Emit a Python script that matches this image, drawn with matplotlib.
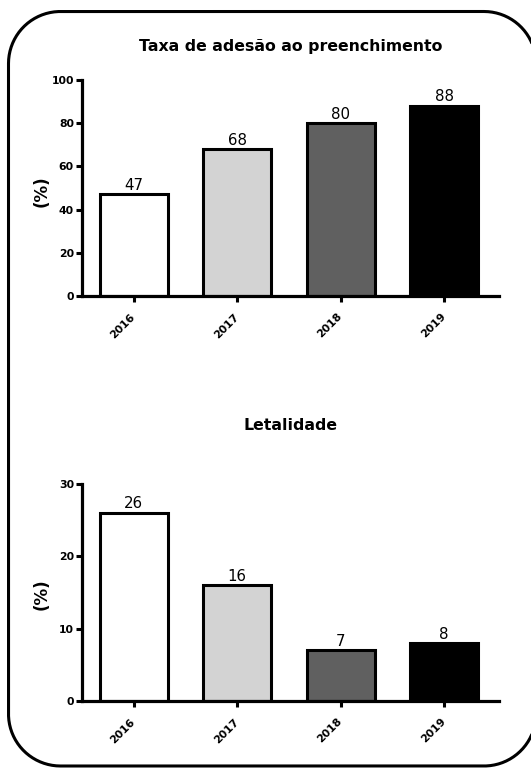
import matplotlib
matplotlib.use('Agg')
import numpy as np
import matplotlib.pyplot as plt
import matplotlib.transforms as mtransforms
from matplotlib.path import Path
from matplotlib.patches import PathPatch

years = ['2016', '2017', '2018', '2019']
adesao = [47, 68, 80, 88]
letalidade = [26, 16, 7, 8]
adesao_ticks = [0, 20, 40, 60, 80, 100]
letalidade_ticks = [0, 10, 20, 30]
bar_colors = ['#ffffff', '#d3d3d3', '#606060', '#000000']
title_top = 'Taxa de adesão ao preenchimento'
title_bottom = 'Letalidade'
ylabel = '(%)'

plt.rcParams['font.family'] = ['DejaVu Sans']

W, H = 531, 769
fig = plt.figure(figsize=(W / 100, H / 100), dpi=100)
fig.patch.set_facecolor('white')

# rounded frame in pixel coordinates (origin top-left), converted to inches
x0, x1, yt, yb, r = 8.5, 536.0, 11.5, 766.0, 52.0
verts = []
def arc(cx, cy, a0, a1):
    t = np.radians(np.linspace(a0, a1, 40))
    return [(cx + r * np.cos(a), cy + r * np.sin(a)) for a in t]
# y measured upward from bottom: convert
Yt, Yb = H - yt, H - yb
pts = []
pts += arc(x1 - r, Yt - r, 0, 90)
pts += arc(x0 + r, Yt - r, 90, 180)
pts += arc(x0 + r, Yb + r, 180, 270)
pts += arc(x1 - r, Yb + r, 270, 360)
pts.append(pts[0])
pts_in = [(px / 100, py / 100) for px, py in pts]
frame = PathPatch(Path(pts_in), transform=fig.dpi_scale_trans, facecolor='none',
                  edgecolor='black', linewidth=2.2, clip_on=False)
fig.patches.append(frame)

ax1 = fig.add_axes([82 / W, 1 - 296 / H, 417 / W, 216 / H])
ax2 = fig.add_axes([82 / W, 1 - 701 / H, 417 / W, 217 / H])

offset = mtransforms.ScaledTranslation(2 / 100, 0, fig.dpi_scale_trans)


def draw(ax, values, yticks, title, title_y, ylabel_y):
    x = list(range(len(years)))
    ax.bar(x, values, width=0.655, color=bar_colors, edgecolor='black',
           linewidth=2.2, zorder=2)
    for xi, v in zip(x, values):
        ax.annotate(str(v), (xi, v), xytext=(0, 3.2), textcoords='offset points',
                    ha='center', va='baseline', fontsize=10.8)
    ax.set_xlim(-0.5, 3.53)
    ax.set_ylim(0, yticks[-1])
    ax.set_facecolor('none')
    for s in ['top', 'right']:
        ax.spines[s].set_visible(False)
    for s in ['left', 'bottom']:
        ax.spines[s].set_linewidth(2.3)
        ax.spines[s].set_zorder(3)
    ax.set_yticks(yticks)
    ax.set_yticklabels([str(t) for t in yticks], fontweight='bold', fontsize=7.8)
    ax.set_xticks(x)
    ax.set_xticklabels(years, fontweight='bold', fontsize=7.8, rotation=45,
                       ha='right', va='center', rotation_mode='anchor')
    for lab in ax.get_xticklabels():
        lab.set_transform(lab.get_transform() + offset)
    ax.tick_params(axis='y', direction='out', length=4.3, width=2.2, pad=1.5)
    ax.tick_params(axis='x', direction='out', length=4.3, width=2.2, pad=9.4)
    fig.text(291 / W, 1 - title_y / H, title, ha='center',
             va='center', fontsize=11.3, fontweight='bold')
    fig.text(42 / W, 1 - ylabel_y / H, ylabel, ha='center', va='center',
             rotation=90, fontsize=12, fontweight='bold')


draw(ax1, adesao, adesao_ticks, title_top, 47, 191)
draw(ax2, letalidade, letalidade_ticks, title_bottom, 426, 594)

fig.savefig('out.png', dpi=100, facecolor='white')
